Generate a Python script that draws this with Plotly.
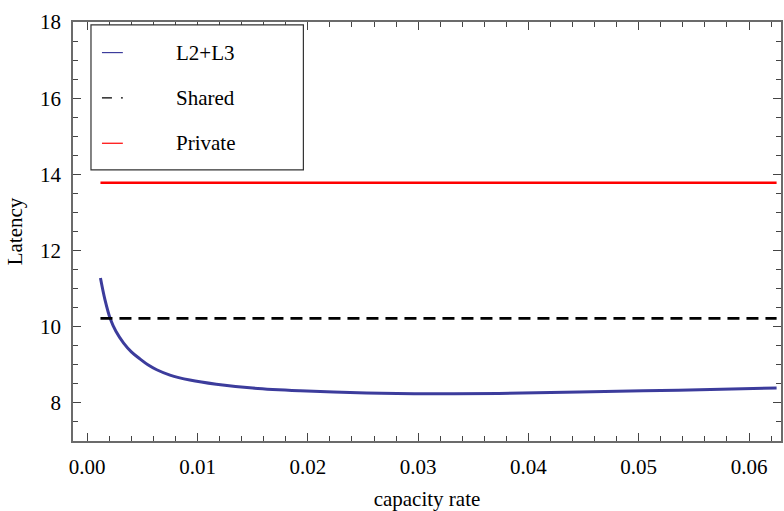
import plotly.graph_objects as go

# L2+L3 latency curve
rate = [0.0012, 0.0016, 0.0021, 0.0026, 0.0033, 0.0040, 0.0048, 0.0055, 0.0063,
        0.0075, 0.0093, 0.0117, 0.0150, 0.0193, 0.0253, 0.0313, 0.0373, 0.0446,
        0.0536, 0.0625]
l2l3 = [11.28, 10.72, 10.20, 9.88, 9.57, 9.34, 9.15, 9.00, 8.87,
        8.73, 8.60, 8.49, 8.39, 8.32, 8.26, 8.24, 8.25, 8.285,
        8.335, 8.39]
shared_latency = 10.22
private_latency = 13.78
x_span = [rate[0], rate[-1]]

series_names = ["L2+L3", "Shared", "Private"]
series_colors = ["#3c3c9c", "black", "#ff0000"]
series_dash = ["solid", "12px,7px", "solid"]

FONT = "Liberation Serif, Times New Roman, serif"
AX = "#6b6b6b"

fig = go.Figure()
fig.add_trace(go.Scatter(x=rate, y=l2l3, mode="lines", name=series_names[0],
                         line=dict(color=series_colors[0], width=3, shape="spline")))
fig.add_trace(go.Scatter(x=x_span, y=[shared_latency] * 2, mode="lines", name=series_names[1],
                         line=dict(color=series_colors[1], width=2.6, dash=series_dash[1])))
fig.add_trace(go.Scatter(x=x_span, y=[private_latency] * 2, mode="lines", name=series_names[2],
                         line=dict(color=series_colors[2], width=2.6)))

axis_common = dict(
    showgrid=False, zeroline=False, showline=True, linecolor=AX, linewidth=1.5,
    mirror="allticks", ticks="inside", ticklen=8, tickwidth=1, tickcolor="#444",
    tickfont=dict(family=FONT, size=21, color="black"),
)

# legend drawn as a framed box (paper coordinates of the plot area)
shapes = [dict(type="rect", xref="paper", yref="paper", x0=0.0254, x1=0.3254,
               y0=0.647, y1=0.993, line=dict(color="#333", width=1.2), fillcolor="white",
               layer="above")]
annotations = []
legend_rows = [0.927, 0.819, 0.7106]
legend_dash = ["solid", "10px,9px", "solid"]
for name, col, dsh, yy in zip(series_names, series_colors, legend_dash, legend_rows):
    shapes.append(dict(type="line", xref="paper", yref="paper", x0=0.0409, x1=0.0704,
                       y0=yy, y1=yy, line=dict(color=col, width=1.2, dash=dsh), layer="above"))
    annotations.append(dict(text=name, xref="paper", yref="paper", x=0.1423, y=yy,
                            xanchor="left", yanchor="middle", showarrow=False,
                            font=dict(family=FONT, size=21, color="black")))

fig.update_layout(
    width=784, height=511,
    margin=dict(l=73, r=1, t=22, b=64),
    paper_bgcolor="white", plot_bgcolor="white",
    font=dict(family=FONT, size=21, color="black"),
    showlegend=False,
    shapes=shapes,
    annotations=annotations,
    xaxis=dict(range=[-0.00129, 0.0629], tickvals=[0, 0.01, 0.02, 0.03, 0.04, 0.05, 0.06],
               ticktext=["0.00", "0.01", "0.02", "0.03", "0.04", "0.05", "0.06"],
               minor=dict(dtick=0.002, tick0=0, ticks="inside", ticklen=5, tickcolor="#444"),
               title=dict(text="capacity rate", standoff=16, font=dict(family=FONT, size=21)),
               ticklabelstandoff=6,
               **axis_common),
    yaxis=dict(range=[7, 18], tickvals=[8, 10, 12, 14, 16, 18],
               minor=dict(dtick=0.5, tick0=0, ticks="inside", ticklen=5, tickcolor="#444"),
               title=dict(text="Latency", standoff=12, font=dict(family=FONT, size=21)),
               ticklabelstandoff=6,
               **axis_common),
)

fig.write_html("out.html")
